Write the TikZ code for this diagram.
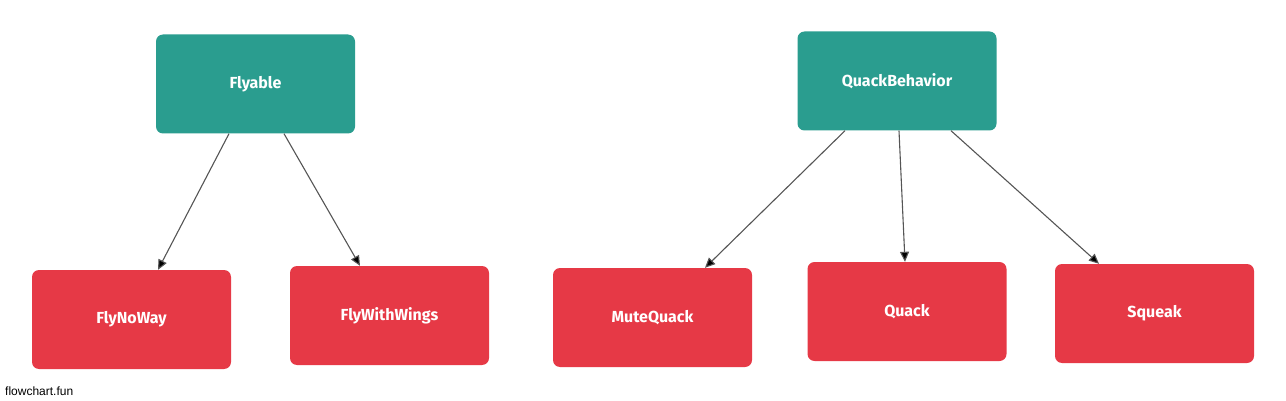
\documentclass[tikz,border=0pt]{standalone}
\usepackage{fontspec}
\setmainfont{Fira Sans}
\newfontfamily\arialf{Liberation Sans}
\usetikzlibrary{arrows.meta}
\definecolor{teal}{HTML}{2A9D8F}
\definecolor{redbox}{HTML}{E63946}
\definecolor{edge}{HTML}{555555}
\tikzset{
  box/.style={rectangle, rounded corners=7pt, minimum width=199pt, minimum height=99pt, inner sep=0pt, text=white, font=\fontsize{16}{18}\selectfont\bfseries},
  parentbox/.style={box, fill=teal},
  childbox/.style={box, fill=redbox},
  conn/.style={draw=edge, line width=1.1pt, -{Triangle[length=10pt,width=9pt,fill=black]}}
}
\begin{document}
\begin{tikzpicture}[x=1pt,y=-1pt]
\useasboundingbox (0,0) rectangle (1286,401);
\node[parentbox] (fly) at (255.5,84) {Flyable};
\node[parentbox] (qb) at (897,81) {QuackBehavior};
\node[childbox] (nw) at (131.5,319.5) {FlyNoWay};
\node[childbox] (ww) at (389.5,315.5) {FlyWithWings};
\node[childbox] (mq) at (652.5,317.5) {MuteQuack};
\node[childbox] (q) at (907,311.5) {Quack};
\node[childbox] (sq) at (1154.5,313.5) {Squeak};
\draw[conn] ([xshift=-26.5pt]fly.south) -- ([xshift=26.5pt]nw.north);
\draw[conn] ([xshift=28.5pt]fly.south) -- ([xshift=-29.5pt]ww.north);
\draw[conn] ([xshift=-52pt]qb.south) -- ([xshift=52.5pt]mq.north);
\draw[conn] ([xshift=2pt]qb.south) -- ([xshift=-2pt]q.north);
\draw[conn] ([xshift=54pt]qb.south) -- ([xshift=-55.5pt]sq.north);
\node[anchor=base west, inner sep=0pt, font=\arialf\fontsize{12}{14}\selectfont] (brand) at (5,395) {flowchart.fun};
\end{tikzpicture}
\end{document}
